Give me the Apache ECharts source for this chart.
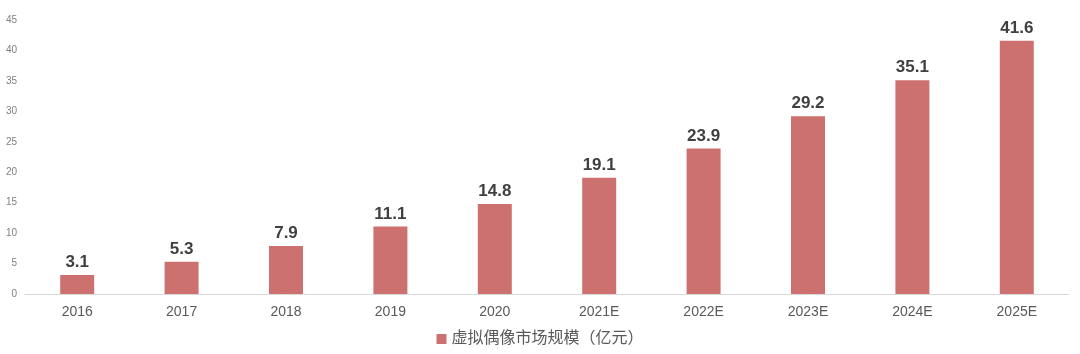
<!DOCTYPE html>
<html>
<head>
<meta charset="utf-8">
<script src="https://cdn.jsdelivr.net/npm/echarts@6/dist/echarts.min.js"></script>
<style>
  html, body { margin: 0; padding: 0; background: #fff; }
  #chart { width: 1080px; height: 354px; }
</style>
</head>
<body>
<div id="chart"></div>
<script>
const years  = ['2016', '2017', '2018', '2019', '2020', '2021E', '2022E', '2023E', '2024E', '2025E'];
const market = [3.1, 5.3, 7.9, 11.1, 14.8, 19.1, 23.9, 29.2, 35.1, 41.6];
const seriesName = '虚拟偶像市场规模（亿元）';

const chart = echarts.init(document.getElementById('chart'));
chart.setOption({
    animation: false,
    textStyle: { fontFamily: 'Arial, "Liberation Sans", "Noto Sans CJK SC", sans-serif' },
    grid: { left: 25, right: 11, top: 20, bottom: 60 },
    legend: {
        bottom: 2,
        left: 'center',
        itemWidth: 10,
        itemHeight: 10,
        icon: 'rect',
        textStyle: { fontSize: 16, color: '#595959' },
        data: [seriesName]
    },
    xAxis: {
        type: 'category',
        data: years,
        axisLine: { lineStyle: { color: '#d9d9d9' } },
        axisTick: { show: false },
        axisLabel: { fontSize: 14, color: '#595959', margin: 11 }
    },
    yAxis: {
        type: 'value',
        min: 0,
        max: 45,
        interval: 5,
        splitLine: { show: false },
        axisLine: { show: false },
        axisTick: { show: false },
        axisLabel: { fontSize: 10, color: '#7f7f7f', margin: 8 }
    },
    series: [{
        name: seriesName,
        type: 'bar',
        data: market,
        barWidth: 34,
        itemStyle: { color: '#cd7170' },
        label: {
            show: true,
            position: 'top',
            distance: 4,
            fontSize: 17,
            fontWeight: 'bold',
            color: '#404040'
        }
    }]
});
</script>
</body>
</html>
